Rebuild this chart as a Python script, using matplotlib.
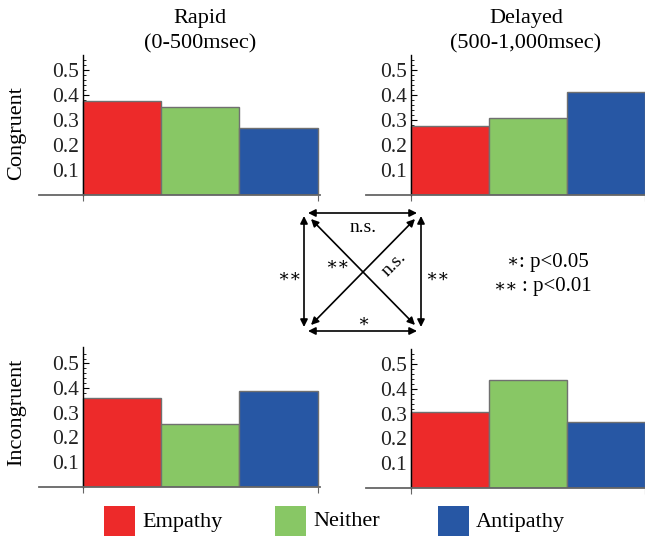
import matplotlib.pyplot as plt
from matplotlib.patches import Rectangle

plt.rcParams['font.family'] = ['Liberation Serif', 'DejaVu Serif']

groups = ['Empathy', 'Neither', 'Antipathy']
colors = ['#ED2A2A', '#88C765', '#2757A4']

rapid_congruent = [0.377, 0.352, 0.267]
delayed_congruent = [0.276, 0.307, 0.413]
rapid_incongruent = [0.358, 0.256, 0.387]
delayed_incongruent = [0.306, 0.435, 0.267]

yticks = [0.1, 0.2, 0.3, 0.4, 0.5]

W, H = 645, 536
fig = plt.figure(figsize=(W / 100, H / 100), dpi=100)


def px_axes(x0, x1, ytop, ybase):
    return fig.add_axes([x0 / W, 1 - ybase / H, (x1 - x0) / W, (ybase - ytop) / H])


def panel(ax, values, xlim, ylim):
    ax.bar(range(3), values, width=1.0, align='edge', color=colors,
           edgecolor='#707070', linewidth=1.0, zorder=2)
    ax.set_xlim(*xlim)
    ax.set_ylim(*ylim)
    ax.spines['top'].set_visible(False)
    ax.spines['right'].set_visible(False)
    ax.spines['left'].set_position(('data', 0))
    ax.spines['left'].set_linewidth(1.0)
    ax.spines['bottom'].set_color('#666666')
    ax.spines['bottom'].set_linewidth(1.3)
    ax.set_yticks(yticks)
    ax.set_yticklabels([f'{t:.1f}' for t in yticks], fontsize=15.5, color='#222222')
    ax.set_yticks([i * 0.02 for i in range(1, 28)], minor=True)
    ax.tick_params(axis='y', which='major', direction='in', length=4, width=0.8, pad=3)
    ax.tick_params(axis='y', which='minor', direction='in', length=2, width=0.6)
    ax.set_xticks([0, 3])
    ax.set_xticklabels([])
    ax.tick_params(axis='x', direction='out', length=4, width=0.8, color='#666666')
    ax.patch.set_alpha(0)


ax1 = px_axes(39, 320, 55, 195)
panel(ax1, rapid_congruent, (-0.56, 3.03), (0, 0.56))
ax2 = px_axes(366, 645, 55, 195)
panel(ax2, delayed_congruent, (-0.58, 3.0), (0, 0.56))
ax3 = px_axes(39, 320, 347, 486.5)
panel(ax3, rapid_incongruent, (-0.56, 3.03), (0, 0.567))
ax4 = px_axes(366, 645, 349, 488)
panel(ax4, delayed_incongruent, (-0.58, 3.0), (0, 0.56))

# overlay in pixel coordinates
ov = fig.add_axes([0, 0, 1, 1])
ov.set_xlim(0, W)
ov.set_ylim(H, 0)
ov.axis('off')
ov.patch.set_alpha(0)

fs = 16
ov.text(200, 18, 'Rapid', ha='center', va='center', fontsize=fs)
ov.text(200, 44, '(0-500msec)', ha='center', va='center', fontsize=fs)
ov.text(526, 18, 'Delayed', ha='center', va='center', fontsize=fs)
ov.text(526, 44, '(500-1,000msec)', ha='center', va='center', fontsize=fs)
ov.text(17, 133, 'Congruent', ha='center', va='center', rotation=90, fontsize=fs)
ov.text(17, 412, 'Incongruent', ha='center', va='center', rotation=90, fontsize=fs)

arrow = dict(arrowstyle='<|-|>', color='black', lw=1.2, mutation_scale=11, shrinkA=0, shrinkB=0)
ov.annotate('', xy=(308, 213), xytext=(417, 213), arrowprops=arrow)
ov.annotate('', xy=(308, 331), xytext=(417, 331), arrowprops=arrow)
ov.annotate('', xy=(304, 216), xytext=(304, 327), arrowprops=arrow)
ov.annotate('', xy=(421, 216), xytext=(421, 327), arrowprops=arrow)
ov.annotate('', xy=(311, 219), xytext=(415, 325), arrowprops=arrow)
ov.annotate('', xy=(415, 219), xytext=(311, 325), arrowprops=arrow)

ov.text(363, 227, 'n.s.', ha='center', va='center', fontsize=14)
ov.text(289, 277, '∗∗', ha='center', va='center', fontsize=13)
ov.text(437, 277, '∗∗', ha='center', va='center', fontsize=13)
ov.text(363, 322, '∗', ha='center', va='center', fontsize=13)
ov.text(337, 265, '∗∗', ha='center', va='center', fontsize=13)
ov.text(394, 264, 'n.s.', ha='center', va='center', fontsize=14, rotation=45)

ov.text(518, 262, '∗', ha='right', va='center', fontsize=13)
ov.text(519, 262, ': p<0.05', ha='left', va='center', fontsize=15)
ov.text(518, 287, '∗∗', ha='right', va='center', fontsize=13)
ov.text(522, 287, ': p<0.01', ha='left', va='center', fontsize=15)

# legend
legend_x = [104, 275, 438]
for x, c, g in zip(legend_x, colors, groups):
    ov.add_patch(Rectangle((x, 506), 31, 31, facecolor=c, edgecolor='none'))
    ov.text(x + 38, 522, g, ha='left', va='center', fontsize=fs)

fig.savefig('out.png', dpi=100)
